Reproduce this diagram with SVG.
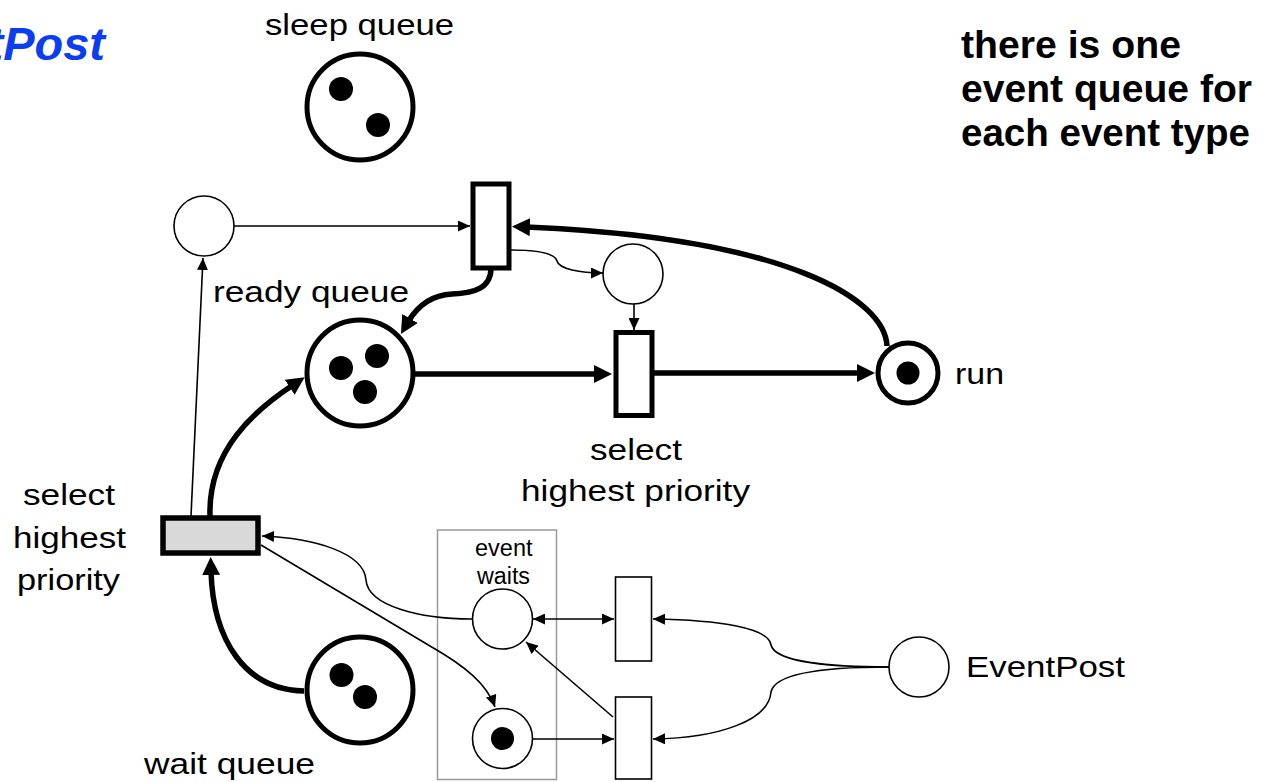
<svg xmlns="http://www.w3.org/2000/svg" width="1271" height="782" viewBox="0 0 1271 782">
<style>
text{font-family:"Liberation Sans",Arial,sans-serif;fill:#000}
.lbl{font-size:29px}
.small{font-size:23px}
.note{font-size:38px;font-weight:bold}
.title{font-size:47px;font-weight:bold;font-style:italic;fill:#0a3ef0}
.pl{fill:#fff;stroke:#000;stroke-width:1.6}
.plk{fill:#fff;stroke:#000;stroke-width:5}
.tok{fill:#000}
.tr{fill:#fff;stroke:#000;stroke-width:1.6}
.trk{fill:#fff;stroke:#000;stroke-width:5}
.thin{fill:none;stroke:#000;stroke-width:1.6;marker-end:url(#as)}
.thick{fill:none;stroke:#000;stroke-width:5.5;marker-end:url(#ah)}
</style>
<defs>
<marker id="ah" markerUnits="userSpaceOnUse" markerWidth="18" markerHeight="18" viewBox="0 0 18 18" refX="4" refY="9" orient="auto"><path d="M0,0 L18,9 L0,18 z" fill="#000"/></marker>
<marker id="as" markerUnits="userSpaceOnUse" markerWidth="12" markerHeight="11" viewBox="0 0 12 11" refX="12" refY="5.5" orient="auto-start-reverse"><path d="M0,0 L12,5.5 L0,11 z" fill="#000"/></marker>
</defs>
<rect width="1271" height="782" fill="#fff"/>

<text class="title" x="105" y="60" text-anchor="end">tPost</text>
<g id="note">
<text class="note" x="961" y="58" textLength="220" lengthAdjust="spacingAndGlyphs">there is one</text>
<text class="note" x="961" y="102" textLength="291" lengthAdjust="spacingAndGlyphs">event queue for</text>
<text class="note" x="961" y="146" textLength="289" lengthAdjust="spacingAndGlyphs">each event type</text>
</g>

<g id="event-waits-box"><rect x="437.5" y="530" width="119" height="249.5" fill="none" stroke="#999" stroke-width="1.5"/></g>

<g id="connectors">
<path class="thin" d="M234,226 L470,226"/>
<path class="thin" d="M191,516 L203,258"/>
<path class="thick" d="M887,346 C885,300 790,238 526,227"/>
<path class="thin" d="M511,250 C540,250 555,254 557,261 C559,269 580,273 603,273"/>
<path class="thick" d="M491,268 C491,288 475,293 452,294 C432,295 418,305 408,322"/>
<path class="thick" d="M414,374 L598,374"/>
<path class="thick" d="M654,373 L861,373"/>
<path class="thin" d="M634,304 L634,330"/>
<path class="thick" d="M210,516 C208,450 255,410 293,385"/>
<path class="thick" d="M304,691 C245,690 213,640 211,571"/>
<path class="thin" d="M472,619 C420,619 368,606 366,580 C364,553 315,538 262,536"/>
<path class="thin" d="M261,545 L430,646 C465,666 487,684 495,707"/>
<path class="thin" d="M533,619 L614,619" marker-start="url(#as)"/>
<path class="thin" d="M532,739 L614,739"/>
<path class="thin" d="M613,717 L526,642"/>
<path class="thin" d="M889,667 C830,667 775,662 771,645 C769,628 720,620 653,619"/>
<path class="thin" d="M889,667 C830,667 775,672 771,692 C769,720 720,738 653,739"/>
</g>

<g id="sleep-queue">
<circle class="plk" cx="360" cy="107" r="53"/>
<circle class="tok" cx="341" cy="89" r="12"/>
<circle class="tok" cx="378" cy="125" r="12"/>
<text class="lbl" x="265" y="35" textLength="189" lengthAdjust="spacingAndGlyphs">sleep queue</text>
</g>
<g id="place-in"><circle class="pl" cx="204" cy="226" r="30"/></g>
<g id="t-top"><rect class="trk" x="473" y="184" width="36" height="84"/></g>
<g id="place-p2"><circle class="pl" cx="633" cy="274" r="30"/></g>
<g id="ready-queue">
<circle class="plk" cx="360" cy="373" r="53"/>
<circle class="tok" cx="341" cy="368" r="12"/>
<circle class="tok" cx="377" cy="356" r="12"/>
<circle class="tok" cx="365" cy="392" r="12"/>
<text class="lbl" x="213" y="302" textLength="196" lengthAdjust="spacingAndGlyphs">ready queue</text>
</g>
<g id="t-select">
<rect class="trk" x="616" y="332.5" width="36" height="83"/>
<text class="lbl" x="590" y="460" textLength="92" lengthAdjust="spacingAndGlyphs">select</text>
<text class="lbl" x="521" y="501" textLength="229" lengthAdjust="spacingAndGlyphs">highest priority</text>
</g>
<g id="run">
<circle class="plk" cx="908" cy="373" r="30"/>
<circle class="tok" cx="908" cy="373" r="11.5"/>
<text class="lbl" x="955" y="384" textLength="49" lengthAdjust="spacingAndGlyphs">run</text>
</g>
<g id="t-gray">
<rect x="163" y="518" width="95" height="35" fill="#d9d9d9" stroke="#000" stroke-width="5.5"/>
<text class="lbl" x="23" y="505" textLength="92" lengthAdjust="spacingAndGlyphs">select</text>
<text class="lbl" x="13" y="548" textLength="113" lengthAdjust="spacingAndGlyphs">highest</text>
<text class="lbl" x="17" y="590" textLength="103" lengthAdjust="spacingAndGlyphs">priority</text>
</g>
<g id="wait-queue">
<circle class="plk" cx="360" cy="690" r="53"/>
<circle class="tok" cx="341.5" cy="675" r="12"/>
<circle class="tok" cx="365" cy="697" r="12"/>
<text class="lbl" x="144" y="774" textLength="171" lengthAdjust="spacingAndGlyphs">wait queue</text>
</g>
<g id="event-waits">
<circle class="pl" cx="502.5" cy="619" r="30"/>
<text class="small" x="475" y="556" textLength="57.5" lengthAdjust="spacingAndGlyphs">event</text>
<text class="small" x="477" y="584" textLength="53" lengthAdjust="spacingAndGlyphs">waits</text>
</g>
<g id="event-pending">
<circle class="pl" cx="502.5" cy="738.5" r="30"/>
<circle class="tok" cx="502.5" cy="738.5" r="11.5"/>
</g>
<g id="t-ev1"><rect class="tr" x="615.5" y="577" width="36" height="84"/></g>
<g id="t-ev2"><rect class="tr" x="615.5" y="697" width="36" height="82"/></g>
<g id="eventpost">
<circle class="pl" cx="919" cy="667" r="30"/>
<text class="lbl" x="966" y="677" textLength="159" lengthAdjust="spacingAndGlyphs">EventPost</text>
</g>
</svg>
